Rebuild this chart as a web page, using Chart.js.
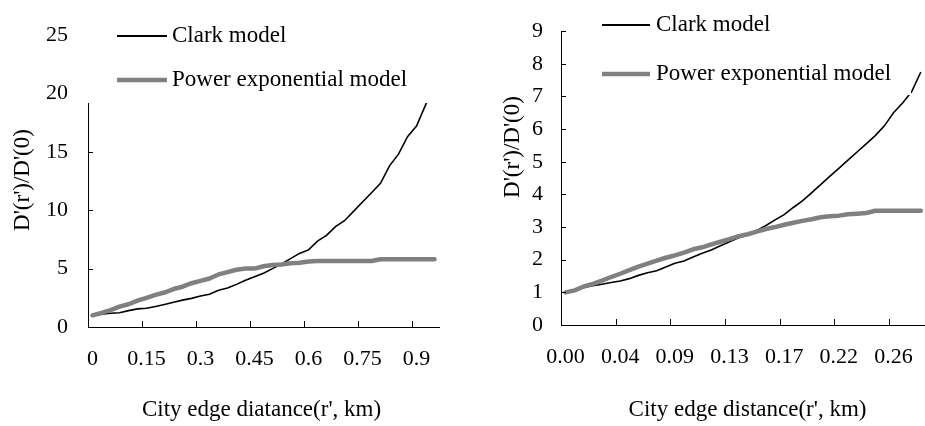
<!DOCTYPE html>
<html><head><meta charset="utf-8">
<script src="https://cdn.jsdelivr.net/npm/chart.js@4.4.1/dist/chart.umd.min.js"></script>
<style>
html,body{margin:0;padding:0;background:#fff;overflow:hidden;}
#wrap{position:relative;width:925px;height:426px;overflow:hidden;background:#fff;}
canvas{position:absolute;top:0;}
</style></head><body>
<div id="wrap">
<canvas id="c1" width="470" height="426" style="left:0"></canvas>
<canvas id="c2" width="470" height="426" style="left:470px"></canvas>
</div>
<script>
// ---------- data ----------
const seriesNames = ['Clark model', 'Power exponential model'];
const yTitle = "D'(r')/D'(0)";
const leftXTitle = "City edge diatance(r', km)";
const rightXTitle = "City edge distance(r', km)";

const leftDistance = [0,0.025,0.05,0.075,0.1,0.125,0.15,0.175,0.2,0.225,0.25,0.275,0.3,0.325,0.35,0.375,0.4,0.425,0.45,0.475,0.5,0.525,0.55,0.575,0.6,0.625,0.65,0.675,0.7,0.725,0.75,0.775,0.8,0.825,0.85,0.875,0.9,0.925,0.95];
const leftClark = [1.0,1.1,1.18,1.22,1.4,1.55,1.6,1.75,1.93,2.12,2.3,2.45,2.65,2.8,3.15,3.33,3.65,4.0,4.3,4.6,5.0,5.4,5.85,6.3,6.6,7.35,7.85,8.6,9.1,9.9,10.7,11.5,12.3,13.8,14.8,16.3,17.2,19.0,20.8];
const leftPower = [1.0,1.2,1.45,1.75,1.95,2.25,2.5,2.75,2.95,3.25,3.45,3.75,3.95,4.15,4.5,4.7,4.9,5.0,5.0,5.2,5.3,5.35,5.45,5.5,5.6,5.65,5.65,5.65,5.65,5.65,5.65,5.65,5.8,5.8,5.8,5.8,5.8,5.8,5.8];
const leftYTicks = [0,5,10,15,20,25];

const rightDistance = [0,0.0072,0.0144,0.0217,0.0289,0.0361,0.0433,0.0506,0.0578,0.065,0.0722,0.0794,0.0867,0.0939,0.1011,0.1083,0.1156,0.1228,0.13,0.1372,0.1444,0.1517,0.1589,0.1661,0.1733,0.1806,0.1878,0.195,0.2022,0.2094,0.2167,0.2239,0.2311,0.2383,0.2456,0.2528,0.26,0.2672,0.2744,0.2817];
const rightClark = [1.0,1.08,1.15,1.2,1.25,1.3,1.35,1.42,1.52,1.6,1.66,1.78,1.89,1.96,2.08,2.2,2.3,2.43,2.55,2.67,2.76,2.9,3.05,3.22,3.38,3.6,3.8,4.05,4.3,4.55,4.8,5.05,5.3,5.55,5.8,6.1,6.5,6.8,7.15,7.75];
const rightPower = [1.0,1.06,1.18,1.26,1.36,1.47,1.57,1.68,1.79,1.88,1.97,2.06,2.13,2.22,2.32,2.38,2.47,2.55,2.63,2.72,2.78,2.86,2.94,3.0,3.07,3.13,3.19,3.24,3.3,3.33,3.35,3.39,3.41,3.43,3.5,3.5,3.5,3.5,3.5,3.5];
const rightYTicks = [0,1,2,3,4,5,6,7,8,9];

// ---------- drawing ----------
const FONT = '"Liberation Serif", "Times New Roman", serif';
const decor = {
  id: 'decor',
  afterDraw(chart) {
    const o = chart.options.plugins.decor;
    const ctx = chart.ctx, ca = chart.chartArea;
    const xs = chart.scales.x, ys = chart.scales.y;
    ctx.save();
    ctx.strokeStyle = '#000'; ctx.lineWidth = 1;
    const n = chart.data.labels.length;
    const half = (xs.getPixelForValue(1) - xs.getPixelForValue(0)) / 2;
    for (let i = 0; i < n; i += o.every) {
      const px = Math.round(xs.getPixelForValue(i) - half) + 0.5;
      ctx.beginPath(); ctx.moveTo(px, ca.bottom); ctx.lineTo(px, ca.bottom - 6); ctx.stroke();
    }
    ys.ticks.forEach(t => {
      const py = Math.round(ys.getPixelForValue(t.value)) + 0.5;
      ctx.beginPath(); ctx.moveTo(ca.left, py); ctx.lineTo(ca.left + 5, py); ctx.stroke();
    });
    // axis titles
    ctx.fillStyle = '#000';
    ctx.font = '23px ' + FONT;
    ctx.textAlign = 'center'; ctx.textBaseline = 'middle';
    ctx.fillText(o.xTitle, o.xTitlePos[0], o.xTitlePos[1]);
    ctx.save();
    ctx.translate(o.yTitlePos[0], o.yTitlePos[1]);
    ctx.rotate(-Math.PI / 2);
    ctx.fillText(yTitle, 0, 0);
    ctx.restore();
    // legend (white box over plot, as in the original)
    ctx.fillStyle = '#fff';
    ctx.fillRect(o.legendBox[0], o.legendBox[1], o.legendBox[2], o.legendBox[3]);
    const items = [chart.data.datasets[1], chart.data.datasets[0]];
    items.forEach((ds, k) => {
      const ly = o.legendY[k];
      ctx.strokeStyle = ds.borderColor;
      ctx.lineWidth = k === 0 ? 2 : 4.5;
      ctx.beginPath(); ctx.moveTo(o.legendX[0], ly); ctx.lineTo(o.legendX[1], ly); ctx.stroke();
      ctx.fillStyle = '#000';
      ctx.textAlign = 'left';
      ctx.fillText(ds.label, o.legendX[2], ly);
    });
    ctx.restore();
  }
};

function makeChart(id, labels, clark, power, yticks, o) {
  return new Chart(document.getElementById(id), {
    type: 'line',
    data: {
      labels: labels,
      datasets: [
        { label: seriesNames[1], data: power, borderColor: '#808080', borderWidth: 4.5, pointRadius: 0, tension: 0, borderCapStyle: 'round', borderJoinStyle: 'round' },
        { label: seriesNames[0], data: clark, borderColor: '#000000', borderWidth: 1.6, pointRadius: 0, tension: 0 }
      ]
    },
    options: {
      responsive: false, animation: false, devicePixelRatio: 1,
      layout: { padding: { left: 0, top: o.top, right: o.right, bottom: 0 } },
      plugins: { legend: { display: false }, tooltip: { enabled: false }, decor: o },
      scales: {
        x: {
          type: 'category', offset: true,
          grid: { display: false, drawTicks: false },
          border: { display: true, color: '#000', width: 1 },
          ticks: {
            autoSkip: false, maxRotation: 0, minRotation: 0, padding: 19, color: '#000',
            font: { family: FONT, size: 22 },
            callback: (v, i) => (i % o.every === 0 ? o.fmt(labels[i]) : '')
          },
          afterFit: s => { s.height = o.xh; }
        },
        y: {
          min: yticks[0], max: yticks[yticks.length - 1],
          afterBuildTicks: s => { s.ticks = yticks.map(v => ({ value: v })); },
          grid: { display: false, drawTicks: false },
          border: { display: true, color: '#000', width: 1 },
          ticks: { padding: o.ypad, color: '#000', font: { family: FONT, size: 22 } },
          afterFit: s => { s.width = o.yw; }
        }
      }
    },
    plugins: [decor]
  });
}

makeChart('c1', leftDistance, leftClark, leftPower, leftYTicks, {
  top: 35, right: 31, xh: 99, yw: 88, ypad: 20, every: 6,
  fmt: v => String(v),
  xTitle: leftXTitle, xTitlePos: [261.5, 410], yTitlePos: [23, 180],
  legendBox: [80, 0, 365, 103], legendX: [117, 167, 172], legendY: [36, 80]
});
makeChart('c2', rightDistance, rightClark, rightPower, rightYTicks, {
  top: 21, right: 14, xh: 101, yw: 91, ypad: 18, every: 6,
  fmt: v => v.toFixed(2),
  xTitle: rightXTitle, xTitlePos: [277.5, 410], yTitlePos: [43, 147],
  legendBox: [100, 0, 341, 95], legendX: [132, 180, 186], legendY: [25, 74]
});
</script>
</body></html>
